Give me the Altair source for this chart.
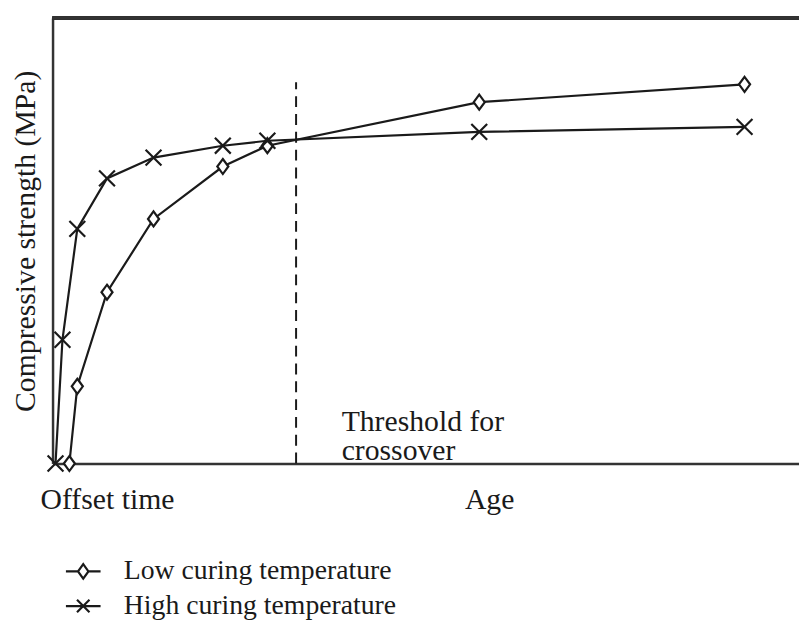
import altair as alt
import pandas as pd

series_names = ["Low curing temperature", "High curing temperature"]

low_age = [17, 25, 55, 102, 172, 217, 431, 699]
low_strength = [0, 78, 173, 247, 300, 321, 365, 383]

high_age = [3, 10, 25, 55, 102, 172, 217, 431, 699]
high_strength = [0, 125, 237, 288, 309, 321, 326, 335, 340]

x_tick_values = [55, 441]
x_tick_labels = ["Offset time", "Age"]

threshold_age = [246]
threshold_top = [385]
threshold_label = ["Threshold for\ncrossover"]
threshold_label_pos = [(292, 33)]

W, H = 754, 450
FONT = "Liberation Serif"
FS = 30
INK = "#1a1a1a"

df = pd.DataFrame(
    {"age": low_age + high_age,
     "strength": low_strength + high_strength,
     "series": [series_names[0]] * len(low_age) + [series_names[1]] * len(high_age)}
)
thr = pd.DataFrame({"age": threshold_age, "y0": [0], "y1": threshold_top})
lab = pd.DataFrame({"age": [p[0] for p in threshold_label_pos],
                    "strength": [p[1] for p in threshold_label_pos],
                    "text": threshold_label})

diamond = "M0,-0.95L0.7,0L0,0.95L-0.7,0Z"
xmark = "M-1,-1L1,1M1,-1L-1,1"
leg_diamond = "M-1,0L-0.3,0M0.3,0L1,0M-0.3,0L0,-0.42L0.3,0L0,0.42Z"
leg_x = "M-1,0L1,0M-0.36,-0.36L0.36,0.36M0.36,-0.36L-0.36,0.36"

label_expr = " : ".join(
    f"datum.value == {v} ? '{t}'" for v, t in zip(x_tick_values[:-1], x_tick_labels[:-1])
) + f" : '{x_tick_labels[-1]}'"

xenc = alt.X("age:Q", scale=alt.Scale(domain=[0, W], nice=False, zero=True),
             axis=alt.Axis(values=x_tick_values, labelExpr=label_expr, ticks=False, tickSize=0,
                           grid=False, domain=True, domainColor="#333", domainWidth=2.5,
                           labelFont=FONT, labelFontSize=FS, labelColor=INK, labelPadding=21,
                           labelAngle=0, title=None))
yenc = alt.Y("strength:Q", scale=alt.Scale(domain=[0, H], nice=False, zero=True),
             axis=alt.Axis(labels=False, ticks=False, tickSize=0, grid=False, domain=True,
                           domainColor="#333", domainWidth=2.5,
                           title="Compressive strength (MPa)", titleFont=FONT,
                           titleFontSize=30, titleFontWeight="normal", titleColor=INK,
                           titlePadding=12))

base = alt.Chart(df)

lines = base.mark_line(color=INK, strokeWidth=2.2).encode(x=xenc, y=yenc, detail="series:N")

points = base.mark_point(filled=True, fill="white", stroke=INK, strokeWidth=2.2, size=256, opacity=1).encode(
    x="age:Q", y="strength:Q",
    shape=alt.Shape("series:N", scale=alt.Scale(domain=series_names, range=[diamond, xmark]),
                    legend=None),
)

legend_layer = base.transform_filter("false").mark_point(
    filled=False, color=INK, strokeWidth=2.2, opacity=1).encode(
    x="age:Q", y="strength:Q",
    shape=alt.Shape("series:N", scale=alt.Scale(domain=series_names, range=[leg_diamond, leg_x]),
                    legend=alt.Legend(orient="none", legendX=12, legendY=540, title=None,
                                      symbolSize=1225, symbolStrokeWidth=2.2, symbolStrokeColor=INK,
                                      symbolOpacity=1, labelLimit=0,
                                      labelFont=FONT, labelFontSize=28,
                                      labelColor=INK, labelOffset=22, padding=0, rowPadding=2)),
)

top_rule = alt.Chart(df).mark_rule(color="#333", strokeWidth=2.5).encode(
    x=alt.value(0), x2=alt.value(W), y=alt.value(0))

dash = alt.Chart(thr).mark_rule(color=INK, strokeWidth=2, strokeDash=[11, 7]).encode(
    x="age:Q", y="y0:Q", y2="y1:Q")

text = alt.Chart(lab).mark_text(align="left", baseline="alphabetic", font=FONT, fontSize=FS,
                                color=INK, lineBreak="\n", lineHeight=29).encode(
    x="age:Q", y="strength:Q", text="text:N")

chart = alt.layer(top_rule, dash, lines, points, legend_layer, text).resolve_scale(
    shape="independent"
).properties(
    width=W, height=H,
    autosize=alt.AutoSizeParams(type="none"),
    padding={"left": 45, "top": 7, "right": 0, "bottom": 159},
    background="white",
).configure_view(stroke=None)

chart.save("out.html", embed_options={"renderer": "svg", "actions": False})
